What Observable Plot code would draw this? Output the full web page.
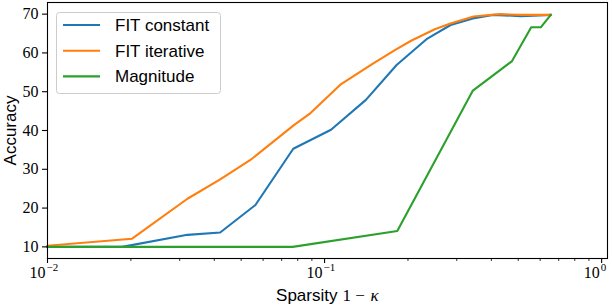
<!DOCTYPE html>
<html><head><meta charset="utf-8">
<script src="https://cdn.jsdelivr.net/npm/d3@7"></script>
<script src="https://cdn.jsdelivr.net/npm/@observablehq/plot@0.6"></script>
<style>html,body{margin:0;padding:0;background:#fff}#chart svg{display:block}</style>
</head><body><div id="chart"></div>
<script>
const seriesNames = ["FIT constant", "FIT iterative", "Magnitude"];
const seriesColors = ["#1f77b4", "#ff7f0e", "#2ca02c"];

const fitConstantX = [0.01, 0.0186, 0.032, 0.042, 0.0563, 0.0771, 0.1055, 0.141, 0.182, 0.235, 0.285, 0.343, 0.405, 0.51, 0.655];
const fitConstantY = [10.0, 10.0, 13.1, 13.7, 20.8, 35.3, 40.2, 47.9, 56.9, 63.7, 67.2, 68.9, 69.8, 69.5, 69.8];

const fitIterativeX = [0.01, 0.0202, 0.032, 0.042, 0.054, 0.0775, 0.089, 0.114, 0.149, 0.18, 0.206, 0.25, 0.283, 0.345, 0.43, 0.51, 0.655];
const fitIterativeY = [10.3, 12.1, 22.4, 27.4, 32.4, 41.4, 44.5, 51.8, 57.2, 60.8, 63.2, 66.1, 67.5, 69.4, 70.0, 69.8, 69.8];

const magnitudeX = [0.01, 0.0767, 0.183, 0.343, 0.475, 0.557, 0.603, 0.655];
const magnitudeY = [10.0, 10.0, 14.1, 50.3, 57.9, 66.6, 66.6, 69.8];

const yTicks = [10, 20, 30, 40, 50, 60, 70];
const xMajorTicks = [0.01, 0.1, 1];
const xTickBase = "10";
const xTickExponents = ["\u22122", "\u22121", "0"];
const xMinorTicks = [0.02, 0.03, 0.04, 0.05, 0.06, 0.07, 0.08, 0.09, 0.2, 0.3, 0.4, 0.5, 0.6, 0.7, 0.8, 0.9];

const xLabelWord = "Sparsity";
const xLabelMath = "1 \u2212 ";
const xLabelSymbol = "\u03BA";
const yLabel = "Accuracy";

const rows = [];
[[fitConstantX, fitConstantY], [fitIterativeX, fitIterativeY], [magnitudeX, magnitudeY]].forEach(([xs, ys], i) => {
  xs.forEach((x, j) => rows.push({series: seriesNames[i], x, y: ys[j]}));
});

const serif = "'Liberation Serif', 'DejaVu Serif', serif";
const sans = "'Liberation Sans', Arial, sans-serif";

const plot = Plot.plot({
  width: 612,
  height: 306,
  marginLeft: 47,
  marginRight: 5,
  marginTop: 2,
  marginBottom: 48,
  style: {background: "#fff", color: "#000", fontFamily: sans},
  x: {type: "log", domain: [0.01, 1.05], label: null},
  y: {domain: [7, 73], label: null},
  color: {domain: seriesNames, range: seriesColors},
  marks: [
    Plot.line(rows, {x: "x", y: "y", z: "series", stroke: "series", strokeWidth: 2.1, strokeLinejoin: "round", strokeLinecap: "square"}),
    Plot.axisY(yTicks, {tickSize: 5, tickPadding: 4, strokeWidth: 1.1, fontFamily: serif, fontSize: 16, label: null}),
    Plot.axisX(xMajorTicks, {tickSize: 5, strokeWidth: 1.1, tickFormat: () => "", label: null}),
    Plot.axisX(xMinorTicks, {tickSize: 3, strokeWidth: 0.8, tickFormat: () => "", label: null}),
    Plot.text(xMajorTicks, {x: d => d, text: () => xTickBase, frameAnchor: "bottom", lineAnchor: "bottom", textAnchor: "end", dx: -2, dy: 19, fontFamily: serif, fontSize: 16, fill: "#000"}),
    Plot.text(xMajorTicks, {x: d => d, text: (d, i) => xTickExponents[i], frameAnchor: "bottom", lineAnchor: "bottom", textAnchor: "start", dx: -1, dy: 12, fontFamily: serif, fontSize: 11, fill: "#000"}),
    Plot.text([xLabelWord], {text: d => d, frameAnchor: "bottom", lineAnchor: "bottom", textAnchor: "end", dx: 10, dy: 42, fontFamily: sans, fontSize: 17, fill: "#000"}),
    Plot.text([xLabelMath], {text: d => d, frameAnchor: "bottom", lineAnchor: "bottom", textAnchor: "start", dx: 15, dy: 42, fontFamily: serif, fontSize: 17, fill: "#000"}),
    Plot.text([xLabelSymbol], {text: d => d, frameAnchor: "bottom", lineAnchor: "bottom", textAnchor: "start", dx: 43, dy: 42, fontFamily: serif, fontStyle: "italic", fontSize: 17, fill: "#000"}),
    Plot.text([yLabel], {text: d => d, frameAnchor: "left", lineAnchor: "bottom", textAnchor: "middle", rotate: -90, dx: -32, fontFamily: sans, fontSize: 17, fill: "#000"}),
    Plot.frame({stroke: "#000", strokeWidth: 1.1})
  ]
});

// Legend
const svg = d3.select(plot);
const lg = svg.append("g").attr("text-anchor", "start");
lg.append("rect")
  .attr("x", 56.5).attr("y", 12.5).attr("width", 164).attr("height", 81).attr("rx", 3)
  .attr("fill", "#fff").attr("fill-opacity", 0.8).attr("stroke", "#cccccc").attr("stroke-width", 1);
seriesNames.forEach((name, i) => {
  const cy = 25 + i * 25.7;
  lg.append("line").attr("x1", 63).attr("x2", 100).attr("y1", cy).attr("y2", cy)
    .attr("stroke", seriesColors[i]).attr("stroke-width", 2.1);
  lg.append("text").attr("x", 115).attr("y", cy).attr("dy", "0.35em").attr("text-anchor", "start")
    .attr("font-family", sans).attr("font-size", 17).attr("fill", "#000").text(name);
});

document.getElementById("chart").appendChild(plot);
</script>
</body></html>
